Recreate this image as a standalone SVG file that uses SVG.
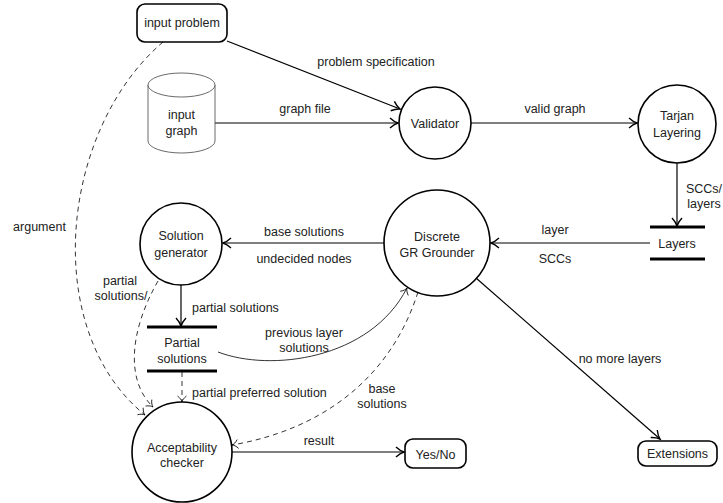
<svg xmlns="http://www.w3.org/2000/svg" width="723" height="503" viewBox="0 0 723 503">
<style>
text{font-family:"Liberation Sans",Arial,sans-serif;font-size:12.5px;fill:#222;text-anchor:middle}
.l{text-anchor:start}
.node{fill:#fff;stroke:#000;stroke-width:1.6}
.bar{stroke:#000;stroke-width:3}
.cyl{fill:#fff;stroke:#444;stroke-width:0.8}
.e{fill:none;stroke:#000;stroke-width:1.2}
.thin{fill:none;stroke:#000;stroke-width:0.8}
.dash{fill:none;stroke:#000;stroke-width:0.8;stroke-dasharray:5 4}
</style>
<defs>
<marker id="a" markerUnits="userSpaceOnUse" markerWidth="14" markerHeight="14" viewBox="-11 -7 14 14" refX="0" refY="0" orient="auto">
<path d="M -8,-5 C -5,-2.2 -2,-0.6 0,0 C -2,0.6 -5,2.2 -8,5" fill="none" stroke="#000" stroke-width="1.4"/>
</marker>
<marker id="t" markerUnits="userSpaceOnUse" markerWidth="12" markerHeight="12" viewBox="-9 -6 12 12" refX="0" refY="0" orient="auto">
<path d="M -6,-4.5 C -4,-1.8 -1.8,-0.4 0,0 C -1.8,0.4 -4,1.8 -6,4.5" fill="none" stroke="#000" stroke-width="0.8"/>
</marker>
</defs>
<g id="connectors">
<path class="e" d="M 227,41 L 400,109" marker-end="url(#a)"/>
<path class="e" d="M 215,123 L 398,123" marker-end="url(#a)"/>
<path class="e" d="M 471,123 L 637,123" marker-end="url(#a)"/>
<path class="e" d="M 677,163 L 677,226" marker-end="url(#a)"/>
<path class="e" d="M 650,243 L 491,243" marker-end="url(#a)"/>
<path class="e" d="M 384,243 L 223,243" marker-end="url(#a)"/>
<path class="e" d="M 181,285 L 181,326" marker-end="url(#a)"/>
<path class="e" d="M 232,452 L 404,452" marker-end="url(#a)"/>
<path class="e" d="M 476,278 L 660,439" marker-end="url(#a)"/>
<path class="thin" d="M 218,352 C 270,372 370,360 407,288" marker-end="url(#t)"/>
<path class="dash" d="M 163,42 C 60,130 40,330 145,415" marker-end="url(#t)"/>
<path class="dash" d="M 158,281 C 130,330 125,380 153,407" marker-end="url(#t)"/>
<path class="dash" d="M 182,372 L 182,402" marker-end="url(#t)"/>
<path class="dash" d="M 418,292 C 390,380 320,430 232,445" marker-end="url(#t)"/>
<text x="376" y="65.5">problem specification</text>
<text x="305" y="112.5">graph file</text>
<text x="555" y="112.5">valid graph</text>
<text x="704" y="192.5">SCCs/</text>
<text x="704" y="207.5">layers</text>
<text x="555" y="233.5">layer</text>
<text x="555" y="262.5">SCCs</text>
<text x="304" y="235.5">base solutions</text>
<text x="304" y="262.5">undecided nodes</text>
<text x="39.5" y="230.5">argument</text>
<text x="120" y="284.5">partial</text>
<text x="121" y="299.5">solutions/</text>
<text class="l" x="192" y="311.5">partial solutions</text>
<text x="304" y="336.5">previous layer</text>
<text x="304" y="351.5">solutions</text>
<text class="l" x="192" y="396.5">partial preferred solution</text>
<text x="382" y="392.5">base</text>
<text x="382" y="407.5">solutions</text>
<text x="620" y="362.5">no more layers</text>
<text x="319" y="444.5">result</text>
</g>
<g id="input-problem">
<rect class="node" x="137" y="4" width="90" height="38" rx="8"/>
<text x="182" y="26.5">input problem</text>
</g>
<g id="input-graph">
<path class="cyl" d="M 148,85 L 148,141 A 33.5,12 0 0 0 215,141 L 215,85"/>
<ellipse class="cyl" cx="181.5" cy="85" rx="33.5" ry="12"/>
<text x="181.5" y="118.5">input</text>
<text x="181.5" y="134.5">graph</text>
</g>
<g id="validator">
<circle class="node" cx="435" cy="123" r="36"/>
<text x="435" y="127.5">Validator</text>
</g>
<g id="tarjan">
<circle class="node" cx="677" cy="124" r="39"/>
<text x="677" y="119.5">Tarjan</text>
<text x="677" y="136.5">Layering</text>
</g>
<g id="layers">
<line class="bar" x1="650" y1="227" x2="705" y2="227"/>
<line class="bar" x1="650" y1="259" x2="705" y2="259"/>
<text x="677" y="247.5">Layers</text>
</g>
<g id="grounder">
<circle class="node" cx="437" cy="243" r="53"/>
<text x="437" y="240.5">Discrete</text>
<text x="437" y="256.5">GR Grounder</text>
</g>
<g id="solution-generator">
<circle class="node" cx="181" cy="244" r="41"/>
<text x="181" y="239.5">Solution</text>
<text x="181" y="256.5">generator</text>
</g>
<g id="partial-solutions">
<line class="bar" x1="147" y1="327" x2="217" y2="327"/>
<line class="bar" x1="147" y1="371" x2="217" y2="371"/>
<text x="182" y="346.5">Partial</text>
<text x="182" y="362.5">solutions</text>
</g>
<g id="acceptability-checker">
<circle class="node" cx="182" cy="452" r="50"/>
<text x="182" y="451.5">Acceptability</text>
<text x="182" y="466.5">checker</text>
</g>
<g id="yes-no">
<rect class="node" x="405" y="439" width="61" height="29" rx="8"/>
<text x="435.5" y="458.5">Yes/No</text>
</g>
<g id="extensions">
<rect class="node" x="638" y="441" width="79" height="25" rx="8"/>
<text x="677.5" y="458">Extensions</text>
</g>
</svg>
